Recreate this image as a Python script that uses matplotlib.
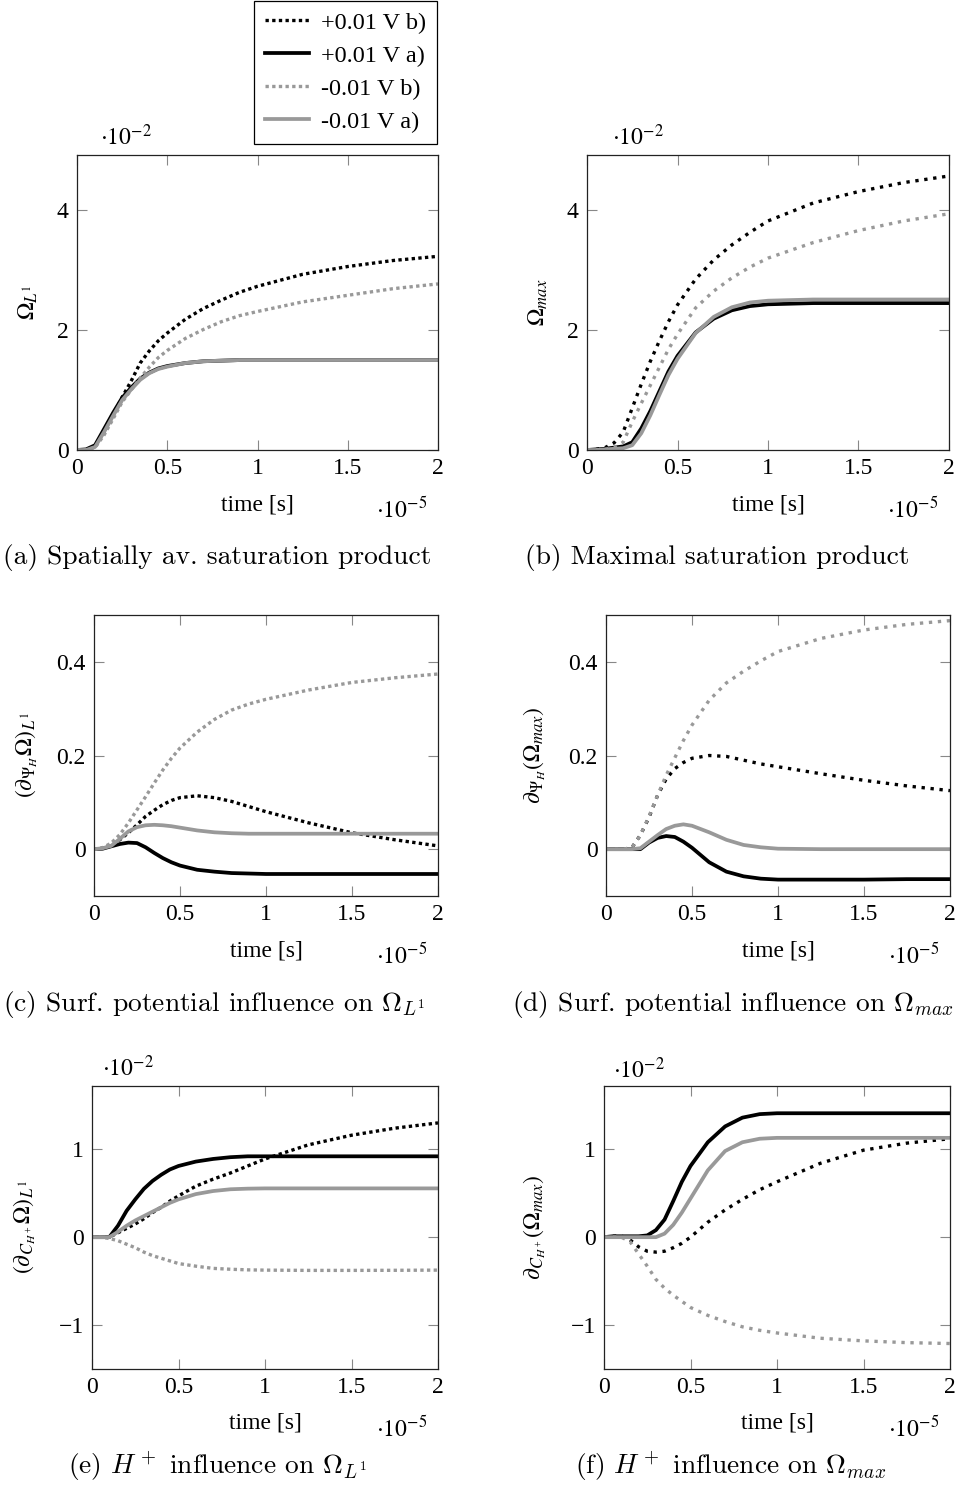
import matplotlib.pyplot as plt
from matplotlib.ticker import FuncFormatter

plt.rcParams['font.family'] = 'Liberation Serif'
plt.rcParams['mathtext.fontset'] = 'stix'
plt.rcParams['font.size'] = 17

W, H = 968, 1489

# time in units of 1e-5 s
t = [0, 0.05, 0.1, 0.15, 0.2, 0.25, 0.3, 0.35, 0.4, 0.45, 0.5,
     0.6, 0.7, 0.8, 0.9, 1.0, 1.25, 1.5, 1.75, 2.0]

labels = ['+0.01 V b)', '+0.01 V a)', '-0.01 V b)', '-0.01 V a)']

# (a) spatially averaged saturation product, x 1e-2
avg_pos_b = [0, 0.0, 0.06, 0.3, 0.58, 0.88, 1.15, 1.45, 1.65, 1.82, 1.95,
             2.18, 2.36, 2.5, 2.63, 2.73, 2.93, 3.06, 3.16, 3.23]
avg_pos_a = [0, 0.01, 0.08, 0.35, 0.62, 0.87, 1.04, 1.19, 1.29, 1.36, 1.40,
             1.45, 1.48, 1.49, 1.5, 1.5, 1.5, 1.5, 1.5, 1.5]
avg_neg_b = [0, 0.0, 0.04, 0.25, 0.52, 0.8, 1.0, 1.2, 1.38, 1.54, 1.66,
             1.86, 2.01, 2.14, 2.24, 2.31, 2.47, 2.58, 2.69, 2.77]
avg_neg_a = [0, 0.0, 0.05, 0.3, 0.57, 0.83, 1.01, 1.17, 1.28, 1.35, 1.39,
             1.45, 1.48, 1.49, 1.5, 1.5, 1.5, 1.5, 1.5, 1.5]

# (b) maximal saturation product, x 1e-2
max_pos_b = [0, 0.01, 0.04, 0.12, 0.3, 0.7, 1.1, 1.48, 1.82, 2.14, 2.42,
             2.85, 3.17, 3.42, 3.63, 3.82, 4.12, 4.31, 4.46, 4.57]
max_pos_a = [0, 0.01, 0.02, 0.04, 0.06, 0.13, 0.36, 0.65, 0.98, 1.31, 1.57,
             1.96, 2.19, 2.33, 2.4, 2.43, 2.45, 2.45, 2.45, 2.45]
max_neg_b = [0, 0.0, 0.01, 0.04, 0.13, 0.47, 0.78, 1.08, 1.38, 1.68, 1.93,
             2.37, 2.65, 2.87, 3.05, 3.2, 3.46, 3.66, 3.82, 3.94]
max_neg_a = [0, 0.0, 0.01, 0.02, 0.03, 0.08, 0.28, 0.58, 0.92, 1.25, 1.52,
             1.95, 2.22, 2.38, 2.46, 2.49, 2.51, 2.51, 2.51, 2.51]

# (c) surface potential influence on the average
psi_avg_pos_b = [0, 0.002, 0.007, 0.02, 0.035, 0.052, 0.07, 0.083, 0.095, 0.104, 0.11,
                 0.114, 0.11, 0.102, 0.091, 0.08, 0.056, 0.035, 0.02, 0.007]
psi_avg_pos_a = [0, 0.001, 0.006, 0.011, 0.014, 0.013, 0.004, -0.008, -0.019, -0.028, -0.035,
                 -0.044, -0.048, -0.051, -0.052, -0.053, -0.053, -0.053, -0.053, -0.053]
psi_avg_neg_b = [0, 0.003, 0.013, 0.031, 0.056, 0.084, 0.112, 0.141, 0.169, 0.194, 0.216,
                 0.25, 0.277, 0.297, 0.31, 0.32, 0.34, 0.356, 0.366, 0.374]
psi_avg_neg_a = [0, 0.002, 0.007, 0.022, 0.038, 0.047, 0.051, 0.052, 0.051, 0.049, 0.046,
                 0.04, 0.036, 0.034, 0.033, 0.033, 0.033, 0.033, 0.033, 0.033]

# (d) surface potential influence on the maximum
psi_max_pos_b = [0, 0, 0, 0.003, 0.03, 0.068, 0.115, 0.15, 0.172, 0.185, 0.194,
                 0.2, 0.198, 0.19, 0.182, 0.176, 0.161, 0.147, 0.135, 0.125]
psi_max_pos_a = [0, 0, 0, 0, 0.0, 0.014, 0.024, 0.028, 0.026, 0.016, 0.003,
                 -0.028, -0.048, -0.058, -0.063, -0.065, -0.065, -0.065, -0.064, -0.064]
psi_max_neg_b = [0, 0, 0, 0.003, 0.03, 0.07, 0.115, 0.158, 0.195, 0.232, 0.265,
                 0.318, 0.355, 0.38, 0.402, 0.422, 0.45, 0.468, 0.48, 0.488]
psi_max_neg_a = [0, 0, 0, 0, 0.002, 0.016, 0.03, 0.043, 0.05, 0.053, 0.05,
                 0.036, 0.02, 0.009, 0.004, 0.001, 0, 0, 0, 0]

# (e) H+ influence on the average, x 1e-2
h_avg_pos_b = [0, 0, 0.0, 0.05, 0.1, 0.15, 0.21, 0.28, 0.34, 0.41, 0.47,
               0.58, 0.66, 0.73, 0.81, 0.89, 1.05, 1.16, 1.24, 1.3]
h_avg_pos_a = [0, 0, 0.0, 0.13, 0.3, 0.43, 0.55, 0.64, 0.71, 0.77, 0.81,
               0.86, 0.89, 0.91, 0.92, 0.92, 0.92, 0.92, 0.92, 0.92]
h_avg_neg_b = [0, 0, -0.015, -0.04, -0.08, -0.12, -0.17, -0.21, -0.24, -0.27, -0.3,
               -0.33, -0.355, -0.365, -0.372, -0.375, -0.378, -0.378, -0.377, -0.375]
h_avg_neg_a = [0, 0, 0, 0.06, 0.13, 0.19, 0.24, 0.29, 0.34, 0.39, 0.43,
               0.49, 0.525, 0.545, 0.552, 0.555, 0.555, 0.555, 0.555, 0.555]

# (f) H+ influence on the maximum, x 1e-2
h_max_pos_b = [0, 0.01, 0.015, -0.03, -0.11, -0.16, -0.17, -0.16, -0.12, -0.07, 0.0,
               0.17, 0.31, 0.43, 0.54, 0.63, 0.84, 0.99, 1.07, 1.12]
h_max_pos_a = [0, 0.01, 0.01, 0.01, 0.01, 0.02, 0.08, 0.2, 0.41, 0.63, 0.81,
               1.08, 1.26, 1.36, 1.4, 1.41, 1.41, 1.41, 1.41, 1.41]
h_max_neg_b = [0, 0, 0, -0.05, -0.19, -0.33, -0.48, -0.58, -0.66, -0.73, -0.8,
               -0.89, -0.96, -1.02, -1.06, -1.09, -1.15, -1.18, -1.2, -1.21]
h_max_neg_a = [0, 0, 0, 0, 0, 0, 0.0, 0.04, 0.14, 0.28, 0.44,
               0.76, 0.98, 1.08, 1.12, 1.13, 1.13, 1.13, 1.13, 1.13]

xticks = [0, 0.5, 1, 1.5, 2]

GRAY = '#999999'


def fmt(v, pos):
    return '{:g}'.format(v).replace('-', '\u2212')


def px(l, top, r, b):
    return [l / W, 1 - b / H, (r - l) / W, (b - top) / H]


fig = plt.figure(figsize=(W / 100, H / 100), dpi=100)


def panel(box, curves, ylim, yticks, ylabel, ylab_x, gap):
    ax = fig.add_axes(px(*box))
    styles = [('black', (0, (1, gap))), ('black', '-'),
              (GRAY, (0, (1, gap))), (GRAY, '-')]
    lines = []
    for y, (c, ls), lab in zip(curves, styles, labels):
        lw = 2.4 if ls != '-' else 2.7
        ln, = ax.plot(t, y, color=c, linestyle=ls, linewidth=lw, label=lab)
        lines.append(ln)
    ax.set_xlim(0, 2)
    ax.set_ylim(*ylim)
    ax.set_xticks(xticks)
    ax.set_yticks(yticks)
    ax.xaxis.set_major_formatter(FuncFormatter(fmt))
    ax.yaxis.set_major_formatter(FuncFormatter(fmt))
    ax.tick_params(direction='in', top=True, right=True, length=7,
                   width=0.8, color='#888888', pad=6)
    for s in ax.spines.values():
        s.set_linewidth(0.9)
        s.set_color('#222222')
    ax.set_xlabel('time [s]')
    hpx = box[3] - box[1]
    wpx = box[2] - box[0]
    ax.xaxis.set_label_coords(0.5, -44 / hpx)
    ax.set_ylabel(ylabel)
    ax.yaxis.set_label_coords((ylab_x - box[0]) / wpx, 0.5)
    fig.text((box[2] - 11) / W, 1 - (box[3] + 60) / H, r'$\cdot 10^{-5}$',
             ha='right', va='center')
    return ax, lines


ax_a, lines = panel((77, 155, 438, 450), [avg_pos_b, avg_pos_a, avg_neg_b, avg_neg_a],
                    (0, 4.92), [0, 2, 4], r'$\Omega_{L^1}$', 40, 1.0)
ax_b, _ = panel((587, 155, 949, 450), [max_pos_b, max_pos_a, max_neg_b, max_neg_a],
                (0, 4.92), [0, 2, 4], r'$\Omega_{max}$', 550, 1.7)
ax_c, _ = panel((94, 615, 438, 896), [psi_avg_pos_b, psi_avg_pos_a, psi_avg_neg_b, psi_avg_neg_a],
                (-0.1, 0.5), [0, 0.2, 0.4], r'$(\partial_{\Psi_H}\Omega)_{L^1}$', 40, 1.0)
ax_d, _ = panel((606, 615, 950, 896), [psi_max_pos_b, psi_max_pos_a, psi_max_neg_b, psi_max_neg_a],
                (-0.1, 0.5), [0, 0.2, 0.4], r'$\partial_{\Psi_H}(\Omega_{max})$', 548, 1.7)
ax_e, _ = panel((92, 1086, 438, 1369), [h_avg_pos_b, h_avg_pos_a, h_avg_neg_b, h_avg_neg_a],
                (-1.5, 1.72), [-1, 0, 1], r'$(\partial_{C_{H^+}}\Omega)_{L^1}$', 38, 1.0)
ax_f, _ = panel((604, 1086, 950, 1369), [h_max_pos_b, h_max_pos_a, h_max_neg_b, h_max_neg_a],
                (-1.5, 1.72), [-1, 0, 1], r'$\partial_{C_{H^+}}(\Omega_{max})$', 548, 1.7)

# y scale factors
for x0, y0 in [(100, 137), (612, 137), (102, 1068), (613, 1070)]:
    fig.text(x0 / W, 1 - y0 / H, r'$\cdot 10^{-2}$', ha='left', va='center')

# sub captions
caps = [(217, 557, '(a) Spatially av. saturation product'),
        (717, 557, '(b) Maximal saturation product'),
        (214, 1005, r'(c) Surf. potential influence on $\Omega_{L^1}$'),
        (733, 1005, r'(d) Surf. potential influence on $\Omega_{max}$'),
        (217, 1467, r'(e) $H^+$ influence on $\Omega_{L^1}$'),
        (731, 1467, r'(f) $H^+$ influence on $\Omega_{max}$')]
for x0, y0, s in caps:
    fig.text(x0 / W, 1 - y0 / H, s, ha='center', va='center', fontsize=19.8,
             family='cmr10', math_fontfamily='cm')

leg = fig.legend(handles=lines, loc='upper left', bbox_to_anchor=(254 / W, 1 - 1 / H),
                 fancybox=False, edgecolor='black', framealpha=1, handlelength=1.8,
                 handletextpad=0.5, labelspacing=0.45, borderpad=0.45, fontsize=17.5,
                 borderaxespad=0)
leg.get_frame().set_linewidth(0.9)

fig.savefig('out.png', dpi=100)
